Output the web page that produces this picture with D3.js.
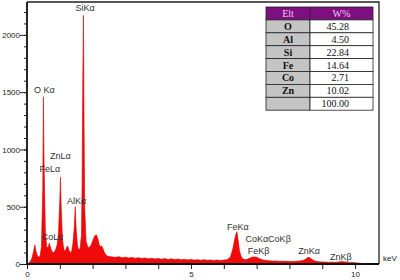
<!DOCTYPE html>
<html>
<head>
<meta charset="utf-8">
<script src="https://cdn.jsdelivr.net/npm/d3@7"></script>
<style>
  html, body { margin: 0; padding: 0; background: #fff; }
  svg { display: block; }
</style>
</head>
<body>
<svg id="chart" width="400" height="280"></svg>
<script>
// Spectrum channels (keV) and counts
const energy = [
  0.00, 0.04, 0.08, 0.12, 0.16, 0.20, 0.24, 0.28, 0.32, 0.36, 0.40, 0.44, 0.48, 0.50, 0.52, 0.56,
  0.60, 0.64, 0.68, 0.72, 0.76, 0.80, 0.84, 0.88, 0.92, 0.96, 1.00, 1.02, 1.04, 1.08, 1.12, 1.16,
  1.20, 1.24, 1.28, 1.32, 1.36, 1.40, 1.44, 1.47, 1.50, 1.54, 1.58, 1.62, 1.66, 1.68, 1.70, 1.72,
  1.74, 1.76, 1.80, 1.84, 1.88, 1.92, 1.96, 2.00, 2.04, 2.08, 2.12, 2.16, 2.20, 2.24, 2.28, 2.32,
  2.36, 2.40, 2.44, 2.50, 2.60, 2.70, 2.80, 2.90, 3.00, 3.10, 3.20, 3.30, 3.40, 3.50, 3.60, 3.70,
  3.80, 3.90, 4.00, 4.10, 4.20, 4.30, 4.40, 4.50, 4.60, 4.70, 4.80, 4.90, 5.00, 5.10, 5.20, 5.30,
  5.40, 5.50, 5.60, 5.70, 5.80, 5.90, 6.00, 6.10, 6.20, 6.28, 6.34, 6.38, 6.40, 6.43, 6.48, 6.55,
  6.65, 6.75, 6.85, 6.92, 7.00, 7.08, 7.20, 7.30, 7.40, 7.50, 7.60, 7.70, 7.80, 7.90, 8.00, 8.10,
  8.20, 8.30, 8.40, 8.50, 8.56, 8.62, 8.70, 8.80, 8.90, 9.00, 9.10, 9.20, 9.30, 9.40, 9.50, 9.60,
  9.70, 9.80, 9.90, 10.00, 10.10, 10.20, 10.25
];
const counts = [
  0, 5, 15, 30, 60, 110, 166, 105, 70, 60, 75, 150, 650, 1460, 880, 290,
  150, 140, 183, 140, 110, 100, 110, 130, 170, 280, 560, 757, 520, 220, 130, 110,
  140, 157, 120, 100, 110, 180, 320, 500, 300, 160, 120, 140, 250, 700, 1620, 2170,
  1190, 480, 200, 160, 140, 150, 170, 200, 230, 250, 253, 220, 170, 150, 157, 130,
  100, 82, 70, 66, 62, 58, 64, 55, 60, 52, 57, 50, 55, 48, 53, 46,
  50, 44, 49, 42, 47, 40, 45, 39, 43, 37, 41, 36, 40, 34, 38, 33,
  37, 32, 36, 31, 35, 30, 34, 38, 60, 140, 230, 270, 282, 220, 110, 50,
  38, 45, 58, 62, 60, 48, 34, 30, 28, 26, 27, 24, 25, 23, 24, 22,
  24, 26, 30, 42, 58, 55, 38, 24, 20, 18, 17, 16, 16, 15, 18, 22,
  18, 14, 13, 11, 9, 5, 0
];

// Peak labels: text, keV position of label centre, counts at label centre
const peakNames  = ['SiKα', 'O Kα', 'ZnLα', 'FeLα', 'AlKα', 'CoLα', 'FeKα', 'CoKαCoKβ', 'FeKβ', 'ZnKα', 'ZnKβ'];
const peakLabelE = [1.77, 0.53, 1.02, 0.70, 1.51, 0.78, 6.43, 7.35, 7.06, 8.60, 9.57];
const peakLabelC = [2235, 1520, 940, 827, 550, 233, 326, 216, 113, 113, 64];

// Composition table
const tableElements = ['O', 'Al', 'Si', 'Fe', 'Co', 'Zn', ''];
const tableWeights  = ['45.28', '4.50', '22.84', '14.64', '2.71', '10.02', '100.00'];

// Axis ticks
const yMajorTicks = [0, 500, 1000, 1500, 2000];
const xMajorTicks = [0, 5, 10];
const xMinorTicks = [0, 1, 2, 3, 4, 5, 6, 7, 8, 9, 10];

const svg = d3.select('#chart');
const plotLeft = 27, plotRight = 379, plotTop = 2, plotBottom = 264;

const x = d3.scaleLinear().domain([0, 10.73]).range([plotLeft, plotRight]);
const y = d3.scaleLinear().domain([0, 2287]).range([plotBottom, plotTop]);

const data = energy.map((e, i) => ({ e: e, c: counts[i] }));

// Spectrum area
const area = d3.area()
  .x(d => x(d.e))
  .y0(y(0))
  .y1(d => y(d.c));

svg.append('path')
  .datum(data)
  .attr('d', area)
  .attr('fill', '#f00a0a')
  .attr('stroke', '#d80000')
  .attr('stroke-width', 0.6);

// Frame (top and right)
svg.append('path')
  .attr('d', `M${plotLeft},${plotTop}H${plotRight}V${plotBottom}`)
  .attr('fill', 'none')
  .attr('stroke', '#222')
  .attr('stroke-width', 1.3);

// Y axis: minor ticks every 100, major every 500
const yMinor = d3.range(0, 2300, 100);
svg.append('g')
  .attr('transform', `translate(${plotLeft},0)`)
  .call(d3.axisLeft(y).tickValues(yMinor).tickSize(3).tickFormat('').tickSizeOuter(0))
  .call(g => g.select('.domain').remove())
  .selectAll('line').attr('stroke', '#222');

const yAxis = svg.append('g')
  .attr('transform', `translate(${plotLeft},0)`)
  .call(d3.axisLeft(y).tickValues(yMajorTicks).tickSize(7).tickPadding(0).tickSizeOuter(0)
    .tickFormat(d3.format('d')));
yAxis.select('.domain').remove();
yAxis.selectAll('line').attr('stroke', '#222');
yAxis.selectAll('text')
  .attr('font-family', 'Liberation Sans, Arial, sans-serif')
  .attr('font-size', '8px')
  .attr('fill', '#222');

// X axis: tick each keV, labels at 0, 5, 10
const xAxis = svg.append('g')
  .attr('transform', `translate(0,${plotBottom})`)
  .call(d3.axisBottom(x).tickValues(xMinorTicks).tickSize(5).tickSizeOuter(0)
    .tickFormat(d => xMajorTicks.includes(d) ? d : ''));
xAxis.select('.domain').remove();
xAxis.selectAll('line').attr('stroke', '#222');
xAxis.selectAll('text')
  .attr('font-family', 'Liberation Sans, Arial, sans-serif')
  .attr('font-size', '8px')
  .attr('dy', '0.6em')
  .attr('fill', '#222');

// Axis lines drawn on top
svg.append('path')
  .attr('d', `M${plotLeft},${plotTop}V${plotBottom}H${plotRight}`)
  .attr('fill', 'none')
  .attr('stroke', '#111')
  .attr('stroke-width', 1.8);

svg.append('text')
  .attr('x', 383)
  .attr('y', 261)
  .attr('font-family', 'Liberation Sans, Arial, sans-serif')
  .attr('font-size', '8px')
  .attr('fill', '#222')
  .text('keV');

// Peak labels
svg.selectAll('.peak')
  .data(peakNames)
  .enter()
  .append('text')
  .attr('class', 'peak')
  .attr('x', (d, i) => x(peakLabelE[i]))
  .attr('y', (d, i) => y(peakLabelC[i]))
  .attr('dy', '0.35em')
  .attr('text-anchor', 'middle')
  .attr('font-family', 'Liberation Sans, Arial, sans-serif')
  .attr('font-size', '9px')
  .attr('fill', '#333')
  .text(d => d);

// Composition table
const tx = 266, tSplit = 310, tRight = 373, tTop = 7, rowH = 12.9;
const table = svg.append('g');

table.append('rect')
  .attr('x', tx).attr('y', tTop)
  .attr('width', tRight - tx).attr('height', rowH)
  .attr('fill', '#7d0f80')
  .attr('stroke', '#222').attr('stroke-width', 0.8);
table.append('line')
  .attr('x1', tSplit).attr('x2', tSplit)
  .attr('y1', tTop).attr('y2', tTop + rowH)
  .attr('stroke', '#222').attr('stroke-width', 0.8);
table.append('text')
  .attr('x', (tx + tSplit) / 2).attr('y', tTop + rowH / 2).attr('dy', '0.35em')
  .attr('text-anchor', 'middle')
  .attr('font-family', 'Liberation Serif, Times New Roman, serif')
  .attr('font-size', '10px')
  .attr('fill', '#f4c8f4')
  .text('Elt');
table.append('text')
  .attr('x', (tSplit + tRight) / 2).attr('y', tTop + rowH / 2).attr('dy', '0.35em')
  .attr('text-anchor', 'middle')
  .attr('font-family', 'Liberation Serif, Times New Roman, serif')
  .attr('font-size', '10px')
  .attr('fill', '#f4c8f4')
  .text('W%');

const rows = table.selectAll('.row')
  .data(tableElements)
  .enter()
  .append('g')
  .attr('class', 'row')
  .attr('transform', (d, i) => `translate(0,${tTop + rowH * (i + 1)})`);

rows.append('rect')
  .attr('x', tx).attr('width', tSplit - tx).attr('height', rowH)
  .attr('fill', '#c4c4c4')
  .attr('stroke', '#222').attr('stroke-width', 0.8);
rows.append('rect')
  .attr('x', tSplit).attr('width', tRight - tSplit).attr('height', rowH)
  .attr('fill', '#fff')
  .attr('stroke', '#222').attr('stroke-width', 0.8);
rows.append('text')
  .attr('x', (tx + tSplit) / 2).attr('y', rowH / 2).attr('dy', '0.35em')
  .attr('text-anchor', 'middle')
  .attr('font-family', 'Liberation Serif, Times New Roman, serif')
  .attr('font-size', '10px')
  .attr('font-weight', 'bold')
  .attr('fill', '#111')
  .text(d => d);
rows.append('text')
  .attr('x', 349).attr('y', rowH / 2).attr('dy', '0.35em')
  .attr('text-anchor', 'end')
  .attr('font-family', 'Liberation Serif, Times New Roman, serif')
  .attr('font-size', '10px')
  .attr('fill', '#111')
  .text((d, i) => tableWeights[i]);
</script>
</body>
</html>
